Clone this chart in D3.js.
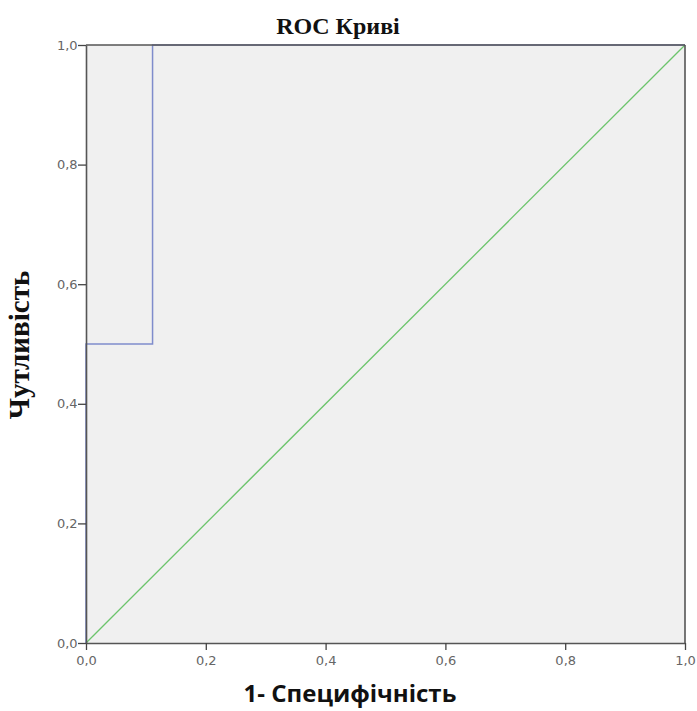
<!DOCTYPE html>
<html><head><meta charset="utf-8">
<script src="https://cdn.jsdelivr.net/npm/d3@7"></script>
<style>body{margin:0;background:#fff}</style>
</head><body>
<svg id="c" width="697" height="711"></svg>
<script>
const ticks = [0, 0.2, 0.4, 0.6, 0.8, 1.0];
const rocX = [0, 0, 1/9, 1/9, 1];
const rocY = [0, 0.5, 0.5, 1, 1];
const refX = [0, 1];
const refY = [0, 1];
const fmt = d => d.toFixed(1).replace('.', ',');

const svg = d3.select('#c');
const L = 86, R = 685, T = 45, B = 643;
const x = d3.scaleLinear().domain([0, 1]).range([L, R]);
const y = d3.scaleLinear().domain([0, 1]).range([B, T]);

svg.append('rect').attr('x', L).attr('y', T).attr('width', R - L).attr('height', B - T).attr('fill', '#f0f0f0');

const line = d3.line().x(d => x(d[0])).y(d => y(d[1]));
svg.append('path').datum(refX.map((v, i) => [v, refY[i]])).attr('d', line)
  .attr('fill', 'none').attr('stroke', '#6cc46c').attr('stroke-width', 1.3);
svg.append('path').datum(rocX.map((v, i) => [v, rocY[i]])).attr('d', line)
  .attr('fill', 'none').attr('stroke', '#7f8ccc').attr('stroke-width', 1.5);

svg.append('line').attr('x1', L).attr('x2', R).attr('y1', T).attr('y2', T).attr('stroke', '#555').attr('stroke-width', 1.6);
svg.append('line').attr('x1', R).attr('x2', R).attr('y1', T).attr('y2', B).attr('stroke', '#555').attr('stroke-width', 1.6);

const xa = svg.append('g').attr('transform', `translate(0,${B})`)
  .call(d3.axisBottom(x).tickValues(ticks).tickFormat(fmt).tickSize(7).tickSizeOuter(0));
const ya = svg.append('g').attr('transform', `translate(${L},0)`)
  .call(d3.axisLeft(y).tickValues(ticks).tickFormat(fmt).tickSize(8).tickSizeOuter(0));
[xa, ya].forEach(a => {
  a.select('.domain').attr('stroke', '#555').attr('stroke-width', 1.6);
  a.selectAll('.tick line').attr('stroke', '#444').attr('stroke-width', 1.3);
  a.selectAll('.tick text').attr('fill', '#666').attr('font-family', 'DejaVu Sans, sans-serif').attr('font-size', 13);
});
xa.selectAll('.tick text').attr('dy', '0.9em');
ya.selectAll('.tick text').attr('dx', '0.2em');

svg.append('text').attr('x', 338).attr('y', 34).attr('text-anchor', 'middle')
  .attr('font-family', 'Liberation Serif, Times New Roman, serif').attr('font-weight', 'bold').attr('font-size', 24)
  .attr('fill', '#111').text('ROC Криві');
svg.append('text').attr('x', 350).attr('y', 702).attr('text-anchor', 'middle')
  .attr('font-family', 'Open Sans, DejaVu Sans, sans-serif').attr('font-weight', 'bold').attr('font-size', 24)
  .attr('fill', '#111').text('1- Специфічність');
svg.append('text').attr('transform', `translate(29,345) rotate(-90)`).attr('text-anchor', 'middle')
  .attr('font-family', 'Liberation Serif, Times New Roman, serif').attr('font-weight', 'bold').attr('font-size', 29)
  .attr('fill', '#111').text('Чутливість');
</script>
</body></html>
